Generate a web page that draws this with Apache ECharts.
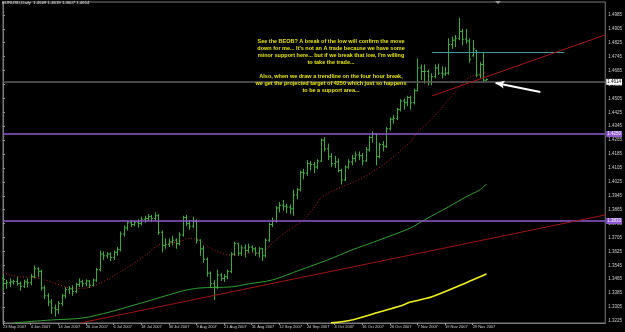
<!DOCTYPE html>
<html><head><meta charset="utf-8">
<script src="https://cdn.jsdelivr.net/npm/echarts@6/dist/echarts.min.js"></script>
<style>html,body{margin:0;padding:0;background:#000;}#c{width:625px;height:332px;}</style>
</head><body><div id="c"></div>
<script>
// ---- tick labels ----
const xTickIdx = [0,8,16,24,32,40,48,56,64,72,80,88,96,104,112,120,128,136];
const xTickLabels = ["23 May 2007","4 Jun 2007","14 Jun 2007","26 Jun 2007","6 Jul 2007","18 Jul 2007","30 Jul 2007","9 Aug 2007","21 Aug 2007","31 Aug 2007","12 Sep 2007","24 Sep 2007","4 Oct 2007","16 Oct 2007","26 Oct 2007","7 Nov 2007","19 Nov 2007","29 Nov 2007"];
const yTicks = [1.3225,1.3305,1.3385,1.3465,1.3545,1.3625,1.3705,1.3785,1.3865,1.3945,1.4025,1.4105,1.4185,1.4265,1.4345,1.4425,1.4505,1.4585,1.4665,1.4745,1.4825,1.4905,1.4985];

// ---- daily OHLC bars (open, high, low, close) from 23 May 2007 ----
const barsOHLC = [
[1.3470,1.3490,1.3405,1.3440],[1.3440,1.3462,1.3410,1.3445],[1.3445,1.3470,1.3420,1.3450],[1.3450,1.3462,1.3435,1.3452],
[1.3452,1.3480,1.3428,1.3440],[1.3440,1.3452,1.3400,1.3425],[1.3425,1.3462,1.3415,1.3450],[1.3450,1.3470,1.3418,1.3445],
[1.3445,1.3495,1.3430,1.3480],[1.3480,1.3545,1.3470,1.3525],[1.3525,1.3535,1.3480,1.3510],[1.3510,1.3520,1.3400,1.3415],
[1.3415,1.3430,1.3350,1.3370],[1.3370,1.3385,1.3310,1.3335],[1.3335,1.3350,1.3265,1.3300],[1.3300,1.3320,1.3250,1.3290],
[1.3290,1.3340,1.3265,1.3325],[1.3325,1.3380,1.3310,1.3370],[1.3370,1.3420,1.3355,1.3405],[1.3405,1.3425,1.3380,1.3410],
[1.3410,1.3430,1.3370,1.3395],[1.3395,1.3445,1.3385,1.3435],[1.3435,1.3470,1.3420,1.3450],[1.3450,1.3462,1.3420,1.3440],
[1.3440,1.3465,1.3425,1.3455],[1.3455,1.3460,1.3415,1.3430],[1.3430,1.3468,1.3425,1.3460],[1.3460,1.3530,1.3450,1.3520],
[1.3520,1.3630,1.3510,1.3610],[1.3610,1.3625,1.3575,1.3600],[1.3600,1.3622,1.3585,1.3610],[1.3610,1.3620,1.3570,1.3590],
[1.3590,1.3630,1.3575,1.3620],[1.3620,1.3650,1.3600,1.3635],[1.3635,1.3740,1.3625,1.3725],[1.3725,1.3775,1.3710,1.3760],
[1.3760,1.3800,1.3745,1.3790],[1.3790,1.3805,1.3765,1.3780],[1.3780,1.3800,1.3770,1.3790],[1.3790,1.3810,1.3760,1.3785],
[1.3785,1.3825,1.3775,1.3810],[1.3810,1.3830,1.3790,1.3815],[1.3815,1.3840,1.3800,1.3825],[1.3825,1.3835,1.3795,1.3815],
[1.3815,1.3850,1.3805,1.3830],[1.3830,1.3840,1.3720,1.3735],[1.3735,1.3745,1.3620,1.3660],[1.3660,1.3700,1.3640,1.3665],
[1.3665,1.3700,1.3650,1.3680],[1.3680,1.3715,1.3660,1.3690],[1.3690,1.3700,1.3640,1.3670],[1.3670,1.3735,1.3660,1.3720],
[1.3720,1.3830,1.3710,1.3820],[1.3820,1.3835,1.3770,1.3785],[1.3785,1.3805,1.3750,1.3770],[1.3770,1.3825,1.3760,1.3800],
[1.3800,1.3810,1.3670,1.3690],[1.3690,1.3695,1.3600,1.3640],[1.3640,1.3660,1.3560,1.3580],[1.3580,1.3590,1.3480,1.3500],
[1.3500,1.3510,1.3420,1.3440],[1.3440,1.3460,1.3345,1.3420],[1.3420,1.3520,1.3410,1.3490],[1.3490,1.3500,1.3455,1.3470],
[1.3470,1.3495,1.3450,1.3480],[1.3480,1.3520,1.3465,1.3510],[1.3510,1.3620,1.3500,1.3610],[1.3610,1.3680,1.3600,1.3670],
[1.3670,1.3675,1.3600,1.3615],[1.3615,1.3660,1.3600,1.3645],[1.3645,1.3665,1.3590,1.3630],[1.3630,1.3670,1.3615,1.3650],
[1.3650,1.3660,1.3620,1.3640],[1.3640,1.3650,1.3600,1.3615],[1.3615,1.3650,1.3590,1.3640],[1.3640,1.3645,1.3570,1.3600],
[1.3600,1.3700,1.3590,1.3690],[1.3690,1.3790,1.3680,1.3780],[1.3780,1.3820,1.3765,1.3800],[1.3800,1.3885,1.3790,1.3875],
[1.3875,1.3910,1.3850,1.3890],[1.3890,1.3920,1.3860,1.3885],[1.3885,1.3900,1.3845,1.3880],[1.3880,1.3895,1.3840,1.3870],
[1.3870,1.3980,1.3830,1.3950],[1.3950,1.3990,1.3925,1.3980],[1.3980,1.4090,1.3970,1.4080],[1.4080,1.4100,1.4040,1.4075],
[1.4075,1.4150,1.4060,1.4130],[1.4130,1.4145,1.4090,1.4125],[1.4125,1.4140,1.4075,1.4110],[1.4110,1.4155,1.4100,1.4145],
[1.4145,1.4275,1.4140,1.4265],[1.4265,1.4282,1.4200,1.4215],[1.4215,1.4245,1.4150,1.4170],[1.4170,1.4190,1.4110,1.4130],
[1.4130,1.4175,1.4105,1.4140],[1.4140,1.4160,1.4080,1.4090],[1.4090,1.4100,1.4010,1.4035],[1.4035,1.4120,1.4030,1.4110],
[1.4110,1.4155,1.4100,1.4140],[1.4140,1.4180,1.4120,1.4160],[1.4160,1.4200,1.4140,1.4180],[1.4180,1.4200,1.4150,1.4175],
[1.4175,1.4190,1.4120,1.4145],[1.4145,1.4225,1.4140,1.4210],[1.4210,1.4290,1.4200,1.4280],[1.4280,1.4315,1.4250,1.4300],
[1.4300,1.4305,1.4120,1.4170],[1.4170,1.4250,1.4160,1.4240],[1.4240,1.4260,1.4200,1.4230],[1.4230,1.4340,1.4220,1.4330],
[1.4330,1.4395,1.4320,1.4385],[1.4385,1.4410,1.4360,1.4390],[1.4390,1.4450,1.4380,1.4440],[1.4440,1.4500,1.4430,1.4490],
[1.4490,1.4505,1.4440,1.4480],[1.4480,1.4520,1.4460,1.4510],[1.4510,1.4520,1.4440,1.4480],[1.4480,1.4560,1.4470,1.4550],
[1.4550,1.4735,1.4545,1.4680],[1.4680,1.4700,1.4610,1.4660],[1.4660,1.4700,1.4590,1.4660],[1.4660,1.4670,1.4580,1.4600],
[1.4600,1.4650,1.4580,1.4630],[1.4630,1.4700,1.4620,1.4680],[1.4680,1.4705,1.4640,1.4650],[1.4650,1.4690,1.4620,1.4645],
[1.4645,1.4685,1.4635,1.4650],[1.4650,1.4850,1.4640,1.4815],[1.4815,1.4860,1.4790,1.4840],[1.4840,1.4870,1.4800,1.4850],
[1.4850,1.4968,1.4840,1.4890],[1.4890,1.4905,1.4810,1.4845],[1.4845,1.4905,1.4820,1.4835],[1.4835,1.4850,1.4710,1.4730],
[1.4750,1.4840,1.4745,1.4790],[1.4780,1.4783,1.4628,1.4640],[1.4640,1.4714,1.4622,1.4700],[1.4700,1.4772,1.4599,1.4610],
[1.4609,1.4619,1.4607,1.4614]
];

// ---- indicator lines: [bar index, price] ----
const maDotted = [[0,1.3508],[2,1.3490],[5,1.3480],[9,1.3476],[12,1.3461],[15,1.3442],[18,1.3422],[20,1.3413],[23,1.3413],[26,1.3422],[28,1.3442],[31,1.3471],[34,1.3508],[38,1.3557],[42,1.3614],[45,1.3662],[48,1.3672],[51,1.3681],[54,1.3701],[57,1.3691],[60,1.3645],[63,1.3616],[66,1.3605],[69,1.3605],[71,1.3616],[74,1.3616],[76,1.3633],[79,1.3691],[82,1.3737],[85,1.3777],[87,1.3806],[90,1.3875],[92,1.3932],[95,1.3967],[98,1.3996],[101,1.4019],[104,1.4047],[107,1.4082],[110,1.4122],[113,1.4168],[116,1.4220],[118,1.4254],[120,1.4312],[123,1.4364],[126,1.4427],[129,1.4496],[132,1.4565],[134,1.4611],[136,1.4634],[138,1.4640],[140,1.4657]];
const maGreen = [[3,1.3214],[14,1.3231],[23,1.3242],[31,1.3277],[38,1.3317],[43,1.3346],[48,1.3375],[52,1.3398],[57,1.3415],[66,1.3421],[71,1.3438],[78,1.3461],[86,1.3518],[94,1.3576],[101,1.3633],[109,1.3691],[118,1.3760],[122,1.3806],[129,1.3881],[134,1.3938],[138,1.3978],[140,1.4013]];
const maYellow = [[95,1.3214],[101,1.3231],[109,1.3277],[115,1.3311],[118,1.3334],[124,1.3363],[134,1.3444],[140,1.3495]];

// ---- chart objects ----
const purpleLevels = [1.4250, 1.3833];
const bidPrice = 1.4614;
const tealLine = [[124.2,1.4770],[162.5,1.4770]];
const fourHourTrend = [[124.2,1.4519],[174.4,1.4870]];
const longTrend = [[22.5,1.3214],[174.4,1.3835]];
const arrowPts = [[155.6,1.4542],[142.65,1.4594]];

const titleText = "EURUSD,Daily  1.4609 1.4619 1.4607 1.4614";
const noteText = "See the BEOB? A break of the low will confirm the move\ndown for me... It's not an A trade because we have some\nminor support here... but if we break that low, I'm willing\nto take the trade...\n\nAlso, when we draw a trendline on the four hour break,\nwe get the projected target of 4250 which just so happens\nto be a support area...";

const FONT = '"Liberation Sans", Arial, sans-serif';
const barColor = '#38ac38';
const purple = '#8f58d0';

const chart = echarts.init(document.getElementById('c'), null, {renderer:'canvas'});

const levelLabel = (txt, bg, fg) => ({show:true, position:'end', distance:1, formatter:txt,
  backgroundColor:bg, color:fg, fontSize:4.5, fontFamily:FONT, padding:[1,1,0,1], lineHeight:5});

const markData = [
  {yAxis:purpleLevels[0], lineStyle:{color:purple,width:1.5,type:'solid'}, label:levelLabel(purpleLevels[0].toFixed(4), purple, '#fff')},
  {yAxis:purpleLevels[1], lineStyle:{color:purple,width:1.5,type:'solid'}, label:levelLabel(purpleLevels[1].toFixed(4), purple, '#fff')},
  {yAxis:bidPrice, lineStyle:{color:'#5e5e5e',width:1.5,type:'solid'}, label:levelLabel(bidPrice.toFixed(4), '#fff', '#000')},
  [{coord:tealLine[0]},{coord:tealLine[1], lineStyle:{color:'#3a9c9c',width:1,type:'solid'}, label:{show:false}}],
  [{coord:fourHourTrend[0]},{coord:fourHourTrend[1], lineStyle:{color:'#a81818',width:1,type:'solid'}, label:{show:false}}],
  [{coord:longTrend[0]},{coord:longTrend[1], lineStyle:{color:'#a01414',width:1,type:'solid'}, label:{show:false}}],
  [{coord:arrowPts[0], symbol:'none'},{coord:arrowPts[1], symbol:'arrow', symbolSize:[6,9], lineStyle:{color:'#ffffff',width:2,type:'solid'}, label:{show:false}}]
];

chart.setOption({
  backgroundColor:'#000',
  animation:false,
  title:{text:titleText, left:2, top:1, padding:0, textStyle:{color:'#e8e8e8', fontSize:4.3, fontFamily:FONT, fontWeight:'normal'}},
  grid:{left:2, right:18, top:2, bottom:9, show:true, borderColor:'#7a7a7a', borderWidth:1, backgroundColor:'#000'},
  xAxis:{type:'value', min:0, max:174.4, splitLine:{show:false},
    axisLine:{show:true, lineStyle:{color:'#7a7a7a'}},
    axisTick:{show:true, length:2, customValues:xTickIdx, lineStyle:{color:'#9a9a9a'}},
    axisLabel:{customValues:xTickIdx, formatter:(v)=>xTickLabels[Math.round(v/8)]||'', align:'left', color:'#cfcfcf', fontSize:4, fontFamily:FONT, margin:2}
  },
  yAxis:{type:'value', position:'right', min:1.32135, max:1.50593, splitLine:{show:false},
    axisLine:{show:true, lineStyle:{color:'#7a7a7a'}},
    axisTick:{show:true, length:2, customValues:yTicks, lineStyle:{color:'#9a9a9a'}},
    axisLabel:{customValues:yTicks, hideOverlap:false, showMinLabel:true, showMaxLabel:true, formatter:(v)=>v.toFixed(4), color:'#cfcfcf', fontSize:4.5, fontFamily:FONT, margin:3}
  },
  graphic:[
    {type:'text', x:331, y:38.5, z:100, style:{text:noteText, fill:'#e4e400', fontSize:5.5, fontWeight:'bold', fontFamily:FONT, lineHeight:6.9, align:'center', verticalAlign:'top'}},
    {type:'polygon', z:100, shape:{points:[[495,1],[501,1],[498,4]]}, style:{fill:'#9a9a9a'}}
  ],
  series:[
    {type:'line', name:'maGreen', data:maGreen, showSymbol:false, smooth:0.3, lineStyle:{color:'#2fa02f', width:1}, z:2},
    {type:'line', name:'maYellow', data:maYellow, showSymbol:false, smooth:0.3, lineStyle:{color:'#f0f020', width:1.6}, z:2},
    {type:'line', name:'maDotted', data:maDotted, showSymbol:false, smooth:0.3, lineStyle:{color:'#c42222', width:1, type:[1,2]}, z:2},
    {type:'custom', name:'bars', z:3,
      data: barsOHLC.map((r,i)=>[i,r[0],r[1],r[2],r[3]]),
      encode:{x:0, y:[1,2,3,4]},
      renderItem:(params, api)=>{
        const i = api.value(0);
        const pH = api.coord([i, api.value(2)]), pL = api.coord([i, api.value(3)]);
        const pO = api.coord([i, api.value(1)]), pC = api.coord([i, api.value(4)]);
        const px = Math.round(pH[0]) + 0.5;
        const st = {stroke:barColor, lineWidth:1};
        return {type:'group', children:[
          {type:'line', shape:{x1:px, y1:pH[1], x2:px, y2:pL[1]}, style:st},
          {type:'line', shape:{x1:px-1.5, y1:pO[1], x2:px, y2:pO[1]}, style:st},
          {type:'line', shape:{x1:px, y1:pC[1], x2:px+1.5, y2:pC[1]}, style:st}
        ]};
      },
      markLine:{silent:true, symbol:['none','none'], animation:false, label:{show:false}, data:markData}
    }
  ]
});
</script></body></html>
